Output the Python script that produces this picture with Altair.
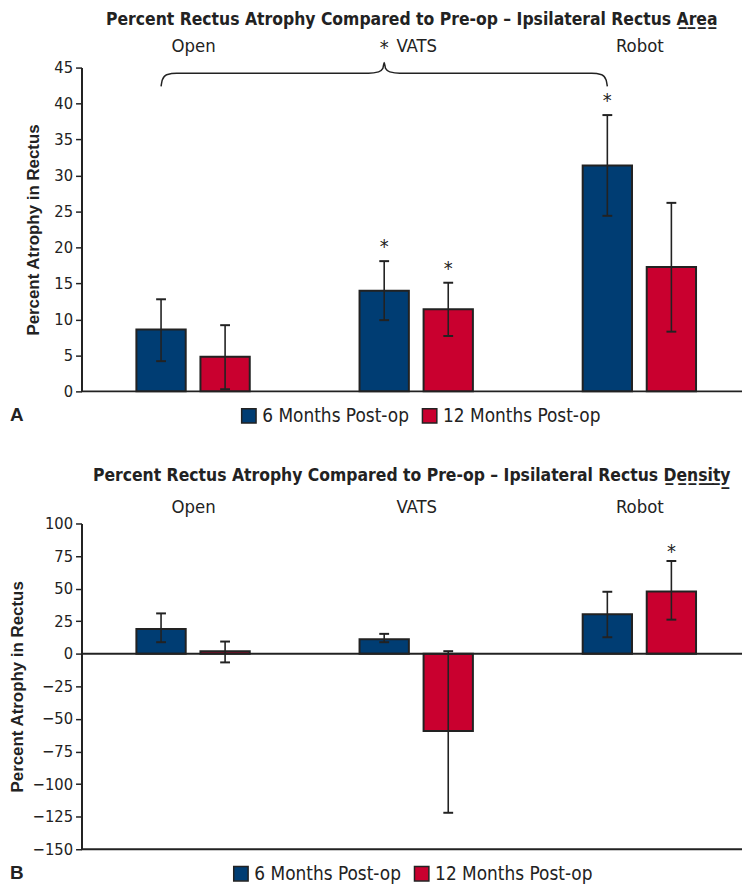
import altair as alt
import pandas as pd

# ---------------- data ----------------
groups = ["Open", "VATS", "Robot"]
series = ["6 Months Post-op", "12 Months Post-op"]

area_6 = [8.6, 14.0, 31.4]
area_6_lo = [4.2, 9.9, 24.4]
area_6_hi = [12.8, 18.1, 38.4]
area_12 = [4.8, 11.4, 17.3]
area_12_lo = [0.3, 7.7, 8.3]
area_12_hi = [9.2, 15.1, 26.2]

dens_6 = [19.1, 11.2, 30.3]
dens_6_lo = [8.9, 8.9, 12.7]
dens_6_hi = [31.0, 15.3, 47.6]
dens_12 = [2.0, -59.3, 47.8]
dens_12_lo = [-6.6, -122.0, 26.2]
dens_12_hi = [9.4, 2.0, 71.2]

# significance stars: (group, series, y)
area_stars = [("VATS", series[0], 20.6), ("VATS", series[1], 17.5), ("Robot", series[0], 40.9)]
dens_stars = [("Robot", series[1], 80.9)]
brace_star_y = 48.3
# brace heights (data units of panel A)
brace_end_y, brace_flat_y, brace_tip_y = 42.4, 44.2, 45.7

area_ticks = [0, 5, 10, 15, 20, 25, 30, 35, 40, 45]
dens_ticks = [100, 75, 50, 25, 0, -25, -50, -75, -100, -125, -150]

# ---------------- styling ----------------
BLUE = "#003D73"
RED = "#C9002F"
INK = "#222222"
COND = "'Liberation Sans Narrow', 'DejaVu Sans Condensed', 'Roboto', sans-serif"
SANS = "'Liberation Sans', Arial, sans-serif"
OFF = 0.1435
HALF = 0.1105
CAP = 0.022
W = 665
XDOM = [-0.5, 2.46]


def offset(s):
    return -OFF if s == series[0] else OFF


def make_df(v6, lo6, hi6, v12, lo12, hi12):
    rows = []
    for gi, g in enumerate(groups):
        for s, v, lo, hi in ((series[0], v6[gi], lo6[gi], hi6[gi]), (series[1], v12[gi], lo12[gi], hi12[gi])):
            c = gi + offset(s)
            rows.append(dict(group=g, series=s, value=v, lo=lo, hi=hi,
                             xc=c, xl=c - HALF, xr=c + HALF, cl=c - CAP, cr=c + CAP))
    return pd.DataFrame(rows)


def star_df(stars):
    return pd.DataFrame([dict(xc=groups.index(g) + offset(s), y=y, t="*") for g, s, y in stars])


label_expr = "[" + ",".join("'%s'" % g for g in groups) + "][datum.value]"


def panel(df, stars, ticks, ydom, title_text, letter, H, label_pad, legend_x, title_pad, title_off,
          extra=None, zero_line=False):
    xaxis = alt.Axis(orient="top", values=[0, 1, 2], labelExpr=label_expr,
                     domain=False, ticks=False, grid=False, labelPadding=label_pad,
                     labelFont=COND, labelFontSize=18.5, labelColor=INK, title=None)
    yaxis = alt.Axis(values=ticks, title="Percent Atrophy in Rectus", grid=False,
                     labelOverlap=False, labelFlush=False,
                     domainColor=INK, domainWidth=2, tickColor=INK, tickWidth=1.5,
                     tickSize=6, labelFont=COND, labelFontSize=16.5, labelColor=INK,
                     labelPadding=3, titleFont=SANS, titleFontSize=17,
                     titleFontWeight="bold", titleColor=INK, titlePadding=title_pad)
    xsc = alt.Scale(domain=XDOM, nice=False, zero=False)
    ysc = alt.Scale(domain=ydom, nice=False, zero=False)

    def X(f):
        return alt.X(f, scale=xsc, axis=xaxis)

    def Y(f):
        return alt.Y(f, scale=ysc, axis=yaxis)

    base = alt.Chart(df)
    bars = base.mark_bar(stroke=INK, strokeWidth=2).encode(
        x=X("xl:Q"), x2="xr:Q", y=Y("value:Q"), y2=alt.datum(0),
        color=alt.Color("series:N", sort=series,
                        scale=alt.Scale(domain=series, range=[BLUE, RED]),
                        legend=alt.Legend(title=None, orient="none", direction="horizontal",
                                          legendX=legend_x, legendY=H + 15,
                                          symbolType="square", symbolSize=210,
                                          symbolStrokeColor=INK, symbolStrokeWidth=1.5,
                                          symbolOpacity=1,
                                          labelFont=COND, labelFontSize=19, labelColor=INK,
                                          columnPadding=10, labelOffset=4, padding=0)),
    )
    err = base.mark_rule(color=INK, strokeWidth=1.6).encode(x=X("xc:Q"), y=Y("lo:Q"), y2="hi:Q")
    cap_hi = base.mark_rule(color=INK, strokeWidth=2).encode(x=X("cl:Q"), x2="cr:Q", y=Y("hi:Q"))
    cap_lo = base.mark_rule(color=INK, strokeWidth=2).encode(x=X("cl:Q"), x2="cr:Q", y=Y("lo:Q"))
    star = alt.Chart(star_df(stars)).mark_text(font=COND, fontSize=20, color=INK, baseline="top", dy=-6).encode(
        x=X("xc:Q"), y=Y("y:Q"), text="t:N")
    axis_lines = [alt.Chart(pd.DataFrame({"y": [ydom[0]]})).mark_rule(color=INK, strokeWidth=2).encode(y=Y("y:Q"))]
    if zero_line:
        axis_lines.append(alt.Chart(pd.DataFrame({"y": [0]})).mark_rule(color=INK, strokeWidth=2).encode(y=Y("y:Q")))
    lett = alt.Chart(pd.DataFrame({"t": [letter]})).mark_text(
        font=SANS, fontSize=19, fontWeight="bold", color=INK, align="left", baseline="middle").encode(
        x=alt.value(-72), y=alt.value(H + 24), text="t:N")
    layers = [bars, err, cap_hi, cap_lo, star] + axis_lines + [lett]
    if extra is not None:
        layers += [e(X, Y) for e in extra]
    return alt.layer(*layers).properties(
        width=W, height=H,
        title=alt.Title(title_text, font=COND, fontSize=17.5, fontWeight="bold", color=INK,
                        anchor="middle", offset=title_off),
    )


def underline(word):
    return "".join(ch + "\u0332" for ch in word)


# ---------------- brace (panel A) ----------------
xl = 0 - OFF
xr = 2 - OFF
cx = (xl + xr) / 2
brace_pts = [
    (xl, brace_end_y), (xl + 0.006, brace_end_y + 0.9), (xl + 0.025, brace_flat_y - 0.2), (xl + 0.07, brace_flat_y),
    (cx - 0.07, brace_flat_y), (cx - 0.025, brace_flat_y + 0.2), (cx - 0.006, brace_tip_y - 0.8), (cx, brace_tip_y),
    (cx + 0.006, brace_tip_y - 0.8), (cx + 0.025, brace_flat_y + 0.2), (cx + 0.07, brace_flat_y),
    (xr - 0.07, brace_flat_y), (xr - 0.025, brace_flat_y - 0.2), (xr - 0.006, brace_end_y + 0.9), (xr, brace_end_y),
]
brace_df = pd.DataFrame({"bx": [p[0] for p in brace_pts], "by": [p[1] for p in brace_pts],
                         "o": list(range(len(brace_pts)))})


def brace(X, Y):
    return alt.Chart(brace_df).mark_line(color=INK, strokeWidth=1.5, interpolate="monotone").encode(
        x=X("bx:Q"), y=Y("by:Q"), order="o:Q")


def brace_star(X, Y):
    return alt.Chart(pd.DataFrame({"bx": [cx], "by": [brace_star_y], "t": ["*"]})).mark_text(
        font=COND, fontSize=20, color=INK, baseline="top", dy=-6).encode(x=X("bx:Q"), y=Y("by:Q"), text="t:N")


dfA = make_df(area_6, area_6_lo, area_6_hi, area_12, area_12_lo, area_12_hi)
dfB = make_df(dens_6, dens_6_lo, dens_6_hi, dens_12, dens_12_lo, dens_12_hi)

chartA = panel(dfA, area_stars, area_ticks, [0, 45],
               "Percent Rectus Atrophy Compared to Pre-op \u2013 Ipsilateral Rectus " + underline("Area"),
               "A", 326, 12, 159, 11, 8, extra=[brace, brace_star])
chartB = panel(dfB, dens_stars, dens_ticks, [-150, 100],
               "Percent Rectus Atrophy Compared to Pre-op \u2013 Ipsilateral Rectus " + underline("Density"),
               "B", 328, 7, 151, 6, 13, zero_line=True)

chart = alt.vconcat(chartA, chartB, spacing=41).resolve_legend(color="independent").properties(
    padding={"top": 0, "left": 0, "right": 0, "bottom": 0}
).configure_view(stroke=None)
chart.save("out.html", embed_options={"renderer": "svg", "actions": False})
